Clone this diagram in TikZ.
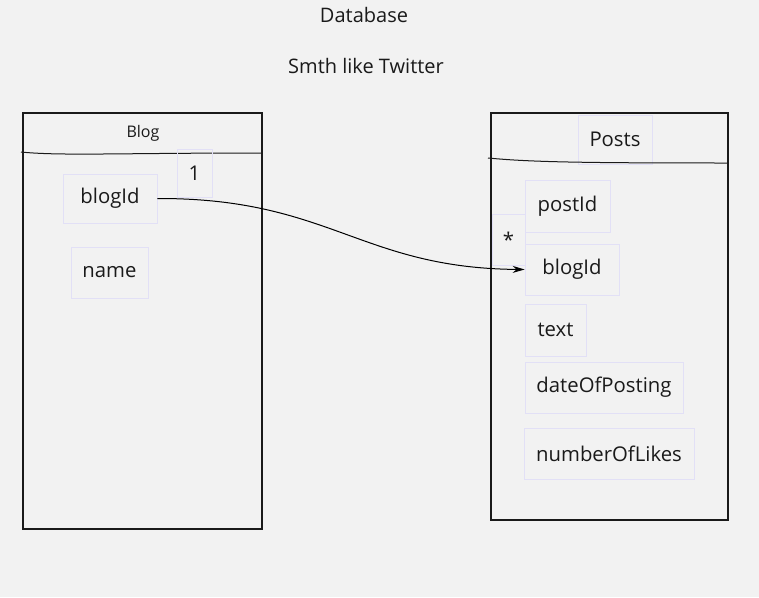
\documentclass[tikz,border=0pt]{standalone}
\usepackage{fontspec}
\setmainfont{Open Sans}
\usetikzlibrary{arrows.meta}
\definecolor{bg}{HTML}{F2F2F2}
\definecolor{fbord}{HTML}{E2E0F6}
\definecolor{ink}{HTML}{1A1A1A}
\begin{document}
\begin{tikzpicture}[x=1pt,y=-1pt,
  field/.style={draw=fbord, line width=0.8pt, font=\fontsize{20.3}{22}\selectfont, text=ink, inner sep=0pt},
  table/.style={draw=ink, line width=2pt, inner sep=0pt},
  lbl/.style={font=\fontsize{20}{22}\selectfont, text=ink, inner sep=0pt}]
\fill[bg] (0,0) rectangle (759,597);
\useasboundingbox (0,0) rectangle (759,597);
\node[lbl] (title) at (364,15) {Database};
\node[lbl] (sub) at (366,66) {Smth like Twitter};
% Blog table
\node[table, minimum width=239pt, minimum height=416pt] (blog) at (142.5,321) {};
\node[font=\fontsize{16}{18}\selectfont, text=ink, inner sep=0pt] (blogt) at (143,133) {Blog};
\coordinate (bl1) at (21,152);
\coordinate (bl2) at (262,153);
\draw[ink, line width=1pt] (bl1) .. controls (60,156) and (120,153) .. (bl2);
\node[field, minimum width=35pt, minimum height=48pt] (one) at (194.5,173) {1};
\node[field, minimum width=94pt, minimum height=49pt] (bid) at (110,198.5) {blogId};
\node[field, minimum width=77pt, minimum height=51pt] (name) at (109.5,272.5) {name};
% Posts table
\node[table, minimum width=237pt, minimum height=407pt] (posts) at (609.5,316.5) {};
\node[field, minimum width=74pt, minimum height=49pt] (postst) at (615,139.5) {Posts};
\coordinate (pl1) at (488,158);
\coordinate (pl2) at (728,163);
\draw[ink, line width=1pt] (pl1) .. controls (530,162) and (580,163) .. (pl2);
\node[field, minimum width=85pt, minimum height=52pt] (pid) at (567.5,206) {postId};
\node[field, minimum width=33pt, minimum height=51pt] (star) at (508.5,240) {*};
\node[field, minimum width=94pt, minimum height=51pt] (pbid) at (572,269.5) {blogId};
\node[field, minimum width=61pt, minimum height=52pt] (ptext) at (555.5,330) {text};
\node[field, minimum width=158pt, minimum height=51pt] (pdate) at (604,387.5) {dateOfPosting};
\node[field, minimum width=170pt, minimum height=51pt] (plikes) at (609,453.5) {numberOfLikes};
% connector
\draw[black, line width=1pt, -{Stealth[length=12pt,width=7pt]}] (bid.east) .. controls (330,198) and (360,268) .. (pbid.west);
\end{tikzpicture}
\end{document}
